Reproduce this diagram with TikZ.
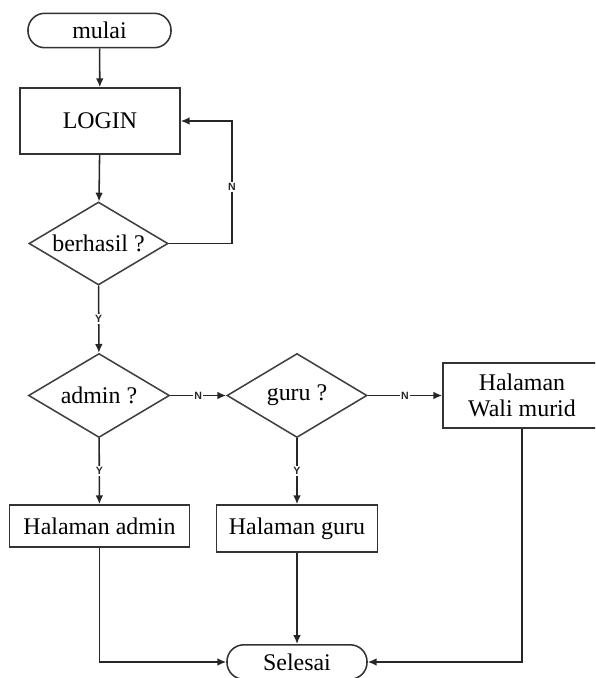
\documentclass[tikz,border=0pt]{standalone}
\usepackage{fontspec}
\setmainfont{Liberation Serif}
\newfontfamily\lblfont{Liberation Sans}
\usetikzlibrary{shapes.geometric,arrows.meta}

\begin{document}
\begin{tikzpicture}[x=0.025cm,y=-0.025cm,
            font=\fontsize{17}{19}\selectfont,
            terminal/.style={draw=black!80, line width=1.1pt, rounded corners=0.42cm, minimum width=#1, minimum height=0.86cm, inner sep=0pt},
            process/.style={draw=black!80, line width=1.1pt, rectangle, inner sep=0pt, align=center},
            decision/.style={draw=black!75, line width=1.1pt, diamond, inner sep=0pt, minimum height=2.1cm},
            arr/.style={-{Latex[length=2.2mm,width=1.9mm]}, line width=1.1pt, black!85},
            lbl/.style={fill=white, inner sep=1pt, font=\lblfont\bfseries\fontsize{7.5}{8}\selectfont}]
            \clip (0,0) rectangle (595,678);
            \node[terminal=3.575cm] (mulai) at (99.5,30.5) {mulai};
            \node[process, minimum width=4cm, minimum height=1.65cm] (login) at (100,121) {LOGIN};
            \node[decision, minimum width=3.475cm, minimum height=2.075cm] (berhasil) at (98.5,243.5) {\makebox[0pt]{berhasil ?}};
            \node[decision, minimum width=3.525cm] (admin) at (99,395.5) {\makebox[0pt]{admin ?}};
            \node[decision, minimum width=3.5cm] (guru) at (297,395.5) {\makebox[0pt]{guru ?}};
            \node[process, minimum width=3.95cm, minimum height=1.625cm] (wali) at (522,395.5) {Halaman\\Wali murid};
            \node[process, minimum width=4.5cm, minimum height=1.05cm] (hadmin) at (99.5,526) {Halaman admin};
            \node[process, minimum width=4.025cm, minimum height=1.175cm] (hguru) at (297,528.5) {Halaman guru};
            \node[terminal=3.5cm] (selesai) at (297,662) {Selesai};
            \coordinate (balik) at (232,243.5);
            \draw[arr] (mulai) -- (login);
            \draw[arr] (login) -- (berhasil);
            \draw[arr] (berhasil.east) -- (balik) |- node[lbl, pos=0.23] {N} (login.east);
            \draw[arr] (berhasil) -- node[lbl] {Y} (admin);
            \draw[arr] (admin) -- node[lbl] {N} (guru);
            \draw[arr] (guru) -- node[lbl] {N} (wali);
            \draw[arr] (admin) -- node[lbl] {Y} (hadmin);
            \draw[arr] (guru) -- node[lbl] {Y} (hguru);
            \draw[arr] (hadmin) |- (selesai);
            \draw[arr] (hguru) -- (selesai);
            \draw[arr] (wali) |- (selesai);
        \end{tikzpicture}
\end{document}
